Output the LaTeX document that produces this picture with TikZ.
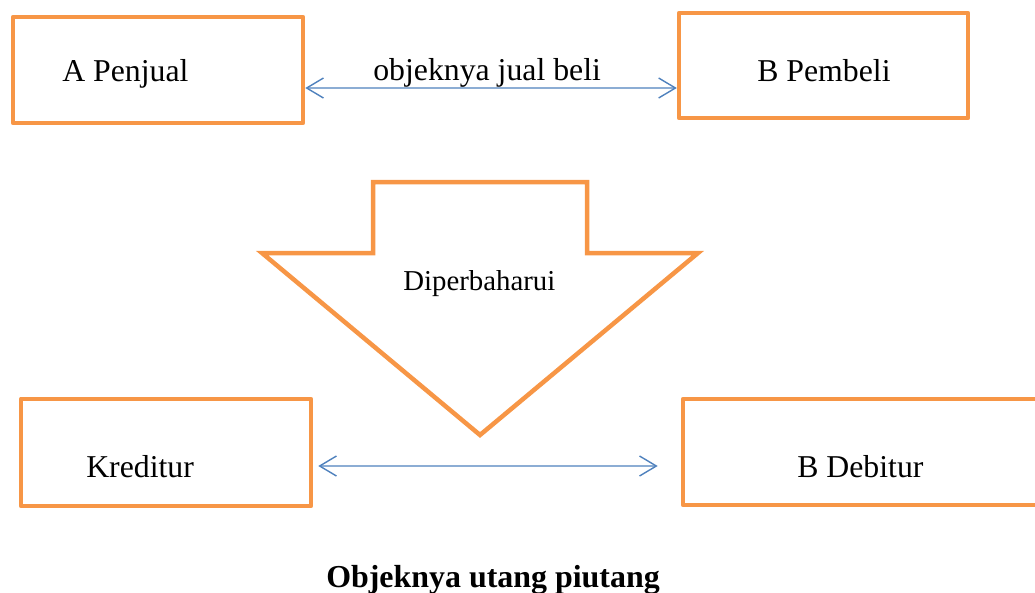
\documentclass[tikz,border=0pt]{standalone}
\usepackage{fontspec}
\setmainfont{Liberation Serif}
\usetikzlibrary{arrows.meta}
\definecolor{boxorange}{RGB}{247,150,70}
\definecolor{linkblue}{RGB}{79,129,189}
\begin{document}
\begin{tikzpicture}
        [x=0.025cm, y=-0.025cm,
         box_style/.style={rectangle,draw=boxorange,line width=3.2pt,line join=round,inner sep=0pt},
         shape_style/.style={draw=boxorange,line width=3.2pt,line join=miter},
         text_style/.style={inner sep=0pt,anchor=base west,font=\fontsize{22.6}{27}\selectfont},
         small_text_style/.style={inner sep=0pt,anchor=base west,font=\fontsize{20.5}{24}\selectfont},
         bold_text_style/.style={inner sep=0pt,anchor=base west,font=\fontsize{22.7}{27}\selectfont\bfseries},
         link_style/.style={draw=linkblue,line width=1pt,
           {Straight Barb[length=4.2mm,width=5mm]}-{Straight Barb[length=4.2mm,width=5mm]}}]
            \clip (0, 0) rectangle (1035, 593);
            \node[box_style,minimum width=7.25cm,minimum height=2.65cm] (penjual) at (158, 70) {};
            \node[box_style,minimum width=7.22cm,minimum height=2.62cm] (pembeli) at (823.5, 65.5) {};
            \node[box_style,minimum width=7.25cm,minimum height=2.68cm] (kreditur) at (166, 452.5) {};
            \node[box_style,minimum width=9.2cm,minimum height=2.65cm] (debitur) at (867, 452) {};
            \draw[shape_style] (373, 182) -- (587, 182) -- (587, 253) -- (698, 253)
              -- (480, 435) -- (262, 253) -- (373, 253) -- cycle;
            \node[text_style] (penjual_text) at (62, 81) {A Penjual};
            \node[text_style] (pembeli_text) at (757, 81) {B Pembeli};
            \node[text_style] (jualbeli_text) at (373, 80) {objeknya jual beli};
            \node[small_text_style] (baharu_text) at (403, 290) {Diperbaharui};
            \node[text_style] (kreditur_text) at (86, 477) {Kreditur};
            \node[text_style] (debitur_text) at (797, 477) {B Debitur};
            \node[bold_text_style] (utang_text) at (326, 587) {Objeknya utang piutang};
            \draw[link_style]  ([yshift=-0.45cm]penjual.east) -- ([yshift=-0.5625cm]pembeli.west);
            \draw[link_style,shorten <=0.125cm,shorten >=0.575cm]  ([yshift=-0.3375cm]kreditur.east) -- ([yshift=-0.35cm]debitur.west);
        \end{tikzpicture}
\end{document}
